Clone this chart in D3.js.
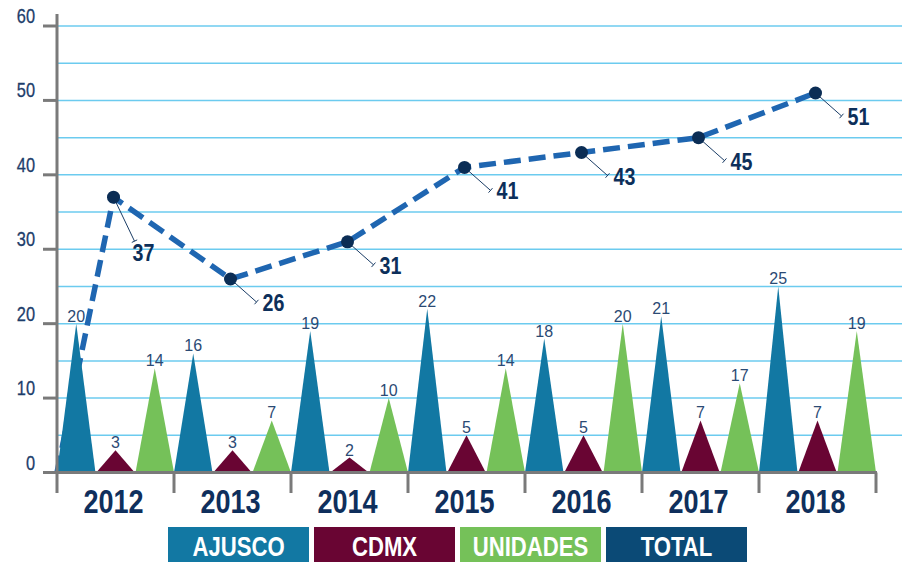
<!DOCTYPE html>
<html>
<head>
  <meta charset="utf-8">
  <title>Ajusco / CDMX / Unidades</title>
  <script src="https://cdn.jsdelivr.net/npm/d3@7"></script>
  <style>
    body { margin: 0; background: #fff; }
    svg { display: block; }
  </style>
</head>
<body>
<svg width="902" height="562"></svg>

<script>
  // datos
  var years = ["2012", "2013", "2014", "2015", "2016", "2017", "2018"];
  var ajusco = [20, 16, 19, 22, 18, 21, 25];
  var cdmx = [3, 3, 2, 5, 5, 7, 7];
  var unidades = [14, 7, 10, 14, 20, 12, 19];
  // la etiqueta de 2017 dice 17 aunque el triángulo llega a 12
  var unidadesLabels = ["14", "7", "10", "14", "20", "17", "19"];
  var total = [37, 26, 31, 41, 43, 45, 51];
  var yTicks = [0, 10, 20, 30, 40, 50, 60];
  var legendNames = ["AJUSCO", "CDMX", "UNIDADES", "TOTAL"];

  var colors = { AJUSCO: "#1278a3", CDMX: "#690533", UNIDADES: "#75c159", TOTAL: "#0b4a76" };
  var sans = "'Liberation Sans', Arial, Helvetica, sans-serif";
  var navy = "#1d3d6b";
  var squeeze = 0.82; // simula Arial Narrow

  // posiciona un texto "estrecho" con escala horizontal
  function at(px, py) {
    return "translate(" + px + "," + py + ") scale(" + squeeze + ",1)";
  }

  var svg = d3.select("svg");
  var W = 902;

  var x = d3.scaleBand().domain(years).range([57, 876]);
  var y = d3.scaleLinear().domain([0, 60]).range([472.5, 26]);
  var sub = d3.scaleBand().domain(["AJUSCO", "CDMX", "UNIDADES"]).range([0, x.bandwidth()]).paddingInner(0.02);

  // líneas de la cuadrícula cada 5
  svg.append("g").selectAll("line")
    .data(d3.range(5, 61, 5))
    .join("line")
    .attr("x1", 57).attr("x2", W)
    .attr("y1", function(d) { return y(d); })
    .attr("y2", function(d) { return y(d); })
    .attr("stroke", "#6ccbef")
    .attr("stroke-width", 1.5);

  // línea total (detrás de los triángulos)
  var pts = [[x.range()[0], y(0)]].concat(total.map(function(v, i) {
    return [x(years[i]) + x.bandwidth() / 2 - 2, y(v)];
  }));
  svg.append("path")
    .attr("d", d3.line()(pts))
    .attr("fill", "none")
    .attr("stroke", "#1f66b1")
    .attr("stroke-width", 5.5)
    .attr("stroke-dasharray", "17,8");

  // triángulos
  var series = [
    { name: "AJUSCO", values: ajusco, labels: ajusco.map(String) },
    { name: "CDMX", values: cdmx, labels: cdmx.map(String) },
    { name: "UNIDADES", values: unidades, labels: unidadesLabels }
  ];
  var tri = [];
  series.forEach(function(s) {
    s.values.forEach(function(v, i) {
      tri.push({ name: s.name, year: years[i], v: v, label: s.labels[i] });
    });
  });

  var gTri = svg.append("g");
  gTri.selectAll("path")
    .data(tri)
    .join("path")
    .attr("fill", function(d) { return colors[d.name]; })
    .attr("d", function(d) {
      var x0 = x(d.year) + sub(d.name), w = sub.bandwidth();
      return "M" + x0 + "," + y(0) + "L" + (x0 + w / 2) + "," + y(d.v) + "L" + (x0 + w) + "," + y(0) + "Z";
    });

  gTri.selectAll("text")
    .data(tri)
    .join("text")
    .attr("x", function(d) { return x(d.year) + sub(d.name) + sub.bandwidth() / 2; })
    .attr("y", function(d) { return y(d.v) - 2; })
    .attr("text-anchor", "middle")
    .attr("font-family", sans)
    .attr("font-size", 16)
    .attr("fill", "#2b4a74")
    .text(function(d) { return d.label; });

  // eje Y
  svg.append("line")
    .attr("x1", 57).attr("x2", 57).attr("y1", 14).attr("y2", 493)
    .attr("stroke", "#7a7a7a").attr("stroke-width", 3);
  var gy = svg.append("g");
  gy.selectAll("line")
    .data(yTicks)
    .join("line")
    .attr("x1", 43).attr("x2", 57)
    .attr("y1", function(d) { return y(d); })
    .attr("y2", function(d) { return y(d); })
    .attr("stroke", "#7a7a7a").attr("stroke-width", 3);
  gy.selectAll("text")
    .data(yTicks)
    .join("text")
    .attr("transform", function(d) { return at(35, y(d) - 3); })
    .attr("text-anchor", "end")
    .attr("font-family", sans)
    .attr("font-size", 20)
    .attr("fill", navy)
    .attr("stroke", navy)
    .attr("stroke-width", 0.3)
    .text(function(d) { return d; });

  // eje X
  svg.append("line")
    .attr("x1", 57).attr("x2", 877).attr("y1", y(0)).attr("y2", y(0))
    .attr("stroke", "#7a7a7a").attr("stroke-width", 3);
  svg.append("g").selectAll("line")
    .data(years.slice(1).map(function(d) { return x(d); }).concat([x.range()[1]]))
    .join("line")
    .attr("x1", function(d) { return d; }).attr("x2", function(d) { return d; })
    .attr("y1", y(0)).attr("y2", 493)
    .attr("stroke", "#7a7a7a").attr("stroke-width", 3);
  svg.append("g").selectAll("text")
    .data(years)
    .join("text")
    .attr("transform", function(d) { return at(x(d) + x.bandwidth() / 2 - 2, 513); })
    .attr("text-anchor", "middle")
    .attr("font-family", sans)
    .attr("font-weight", "bold")
    .attr("font-size", 33)
    .attr("fill", "#0f2f5c")
    .text(function(d) { return d; });

  // puntos y etiquetas del total
  var gTot = svg.append("g");
  total.forEach(function(v, i) {
    var p = pts[i + 1];
    var off = i === 0 ? [21, 44] : [26, 23];
    var ex = p[0] + off[0], ey = p[1] + off[1];
    var len = Math.sqrt(off[0] * off[0] + off[1] * off[1]);
    var nx = -off[1] / len * 3, ny = off[0] / len * 3;
    gTot.append("line")
      .attr("x1", p[0]).attr("y1", p[1]).attr("x2", ex).attr("y2", ey)
      .attr("stroke", "#1b3d66").attr("stroke-width", 1);
    gTot.append("line")
      .attr("x1", ex - nx).attr("y1", ey - ny).attr("x2", ex + nx).attr("y2", ey + ny)
      .attr("stroke", "#1b3d66").attr("stroke-width", 1);
    gTot.append("circle")
      .attr("cx", p[0]).attr("cy", p[1]).attr("r", 6.5)
      .attr("fill", "#0b2d55");
    gTot.append("text")
      .attr("transform", at(i === 0 ? ex - 2 : ex + 6, i === 0 ? ey + 20 : ey + 9))
      .attr("font-family", sans)
      .attr("font-weight", "bold")
      .attr("font-size", 24)
      .attr("fill", "#0d2f5a")
      .text(v);
  });

  // leyenda
  var lg = svg.append("g").attr("transform", "translate(168,527)");
  var item = lg.selectAll("g")
    .data(legendNames)
    .join("g")
    .attr("transform", function(d, i) { return "translate(" + (i * 146) + ",0)"; });
  item.append("rect")
    .attr("width", 141).attr("height", 36)
    .attr("fill", function(d) { return colors[d]; });
  item.append("text")
    .attr("transform", at(70.5, 29))
    .attr("text-anchor", "middle")
    .attr("font-family", sans)
    .attr("font-weight", "bold")
    .attr("font-size", 27)
    .attr("fill", "#fff")
    .text(function(d) { return d; });
</script>
</body>
</html>
